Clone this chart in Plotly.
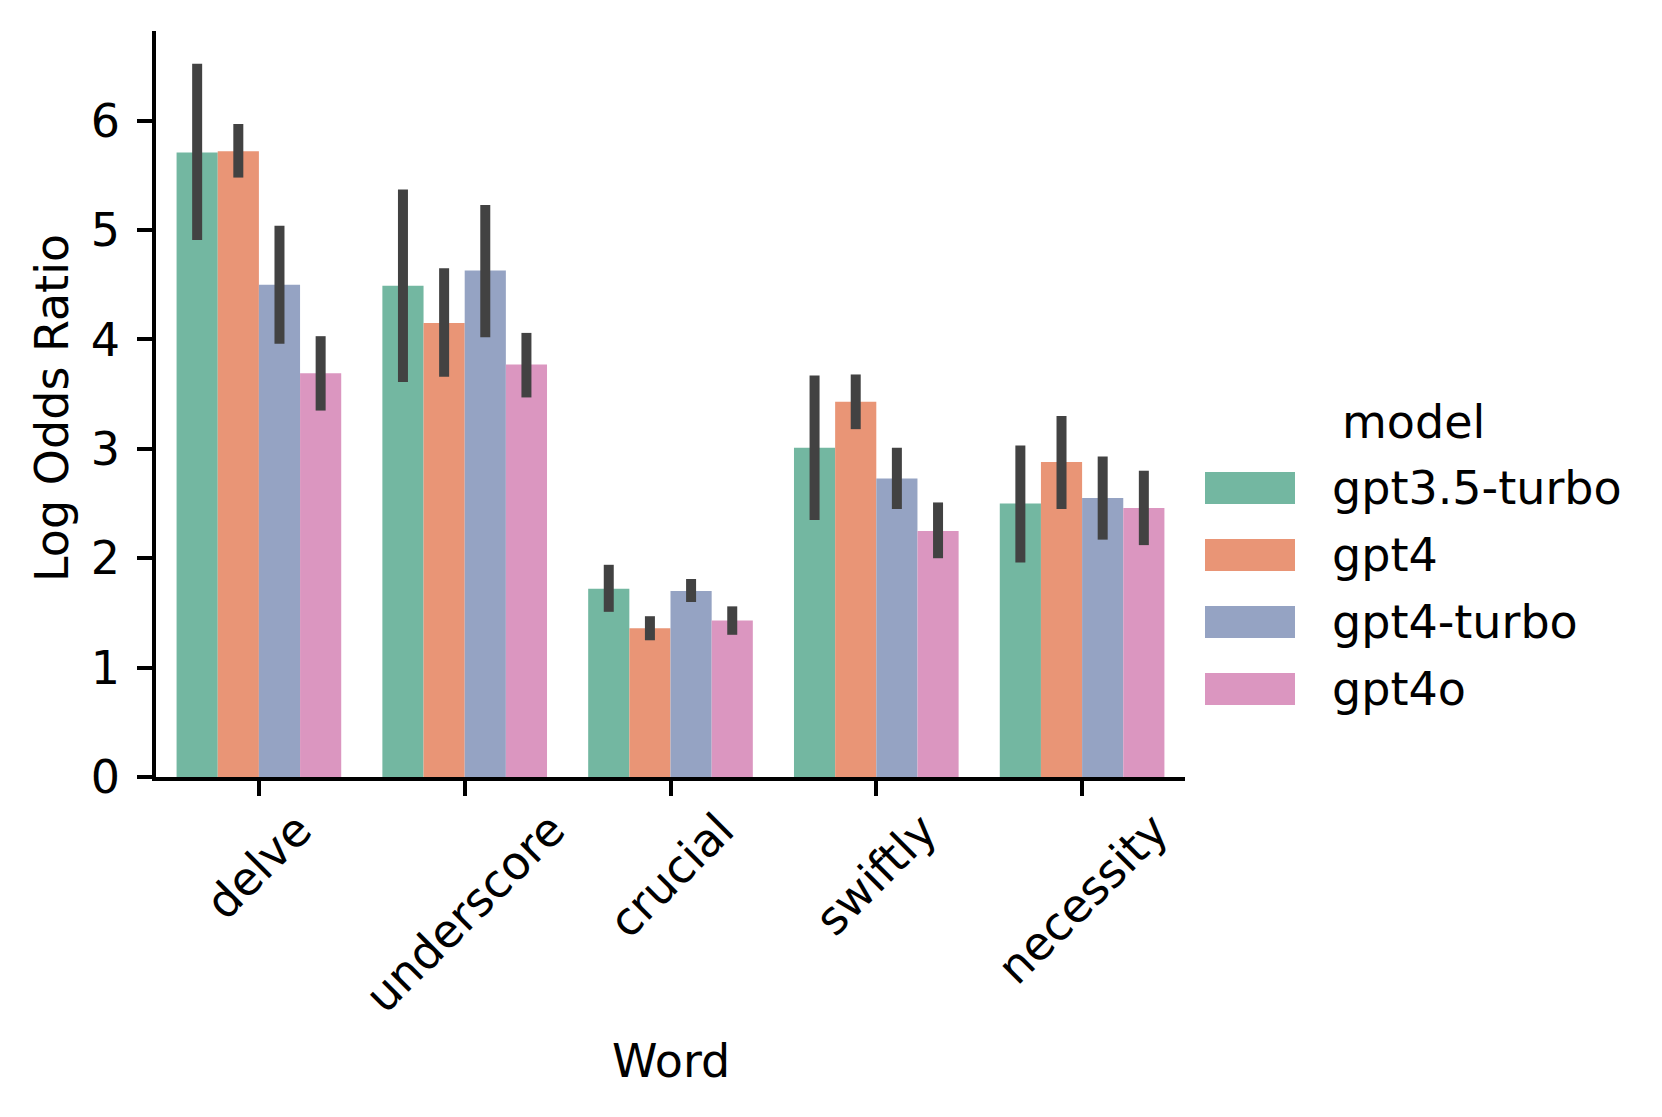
import plotly.graph_objects as go

# ---------------- data ----------------
words = ["delve", "underscore", "crucial", "swiftly", "necessity"]
models = ["gpt3.5-turbo", "gpt4", "gpt4-turbo", "gpt4o"]

gpt35_val = [5.71, 4.49, 1.72, 3.01, 2.50]
gpt35_lo = [4.91, 3.61, 1.51, 2.35, 1.96]
gpt35_hi = [6.52, 5.37, 1.94, 3.67, 3.03]

gpt4_val = [5.72, 4.15, 1.36, 3.43, 2.88]
gpt4_lo = [5.48, 3.66, 1.25, 3.18, 2.45]
gpt4_hi = [5.97, 4.65, 1.47, 3.68, 3.30]

gpt4t_val = [4.50, 4.63, 1.70, 2.73, 2.55]
gpt4t_lo = [3.96, 4.02, 1.60, 2.45, 2.17]
gpt4t_hi = [5.04, 5.23, 1.81, 3.01, 2.93]

gpt4o_val = [3.69, 3.77, 1.43, 2.25, 2.46]
gpt4o_lo = [3.35, 3.47, 1.30, 2.00, 2.12]
gpt4o_hi = [4.03, 4.06, 1.56, 2.51, 2.80]

y_ticks = [0, 1, 2, 3, 4, 5, 6]

colors = ["#73b7a1", "#e99576", "#95a3c3", "#db96c0"]

series = [
    (gpt35_val, gpt35_lo, gpt35_hi),
    (gpt4_val, gpt4_lo, gpt4_hi),
    (gpt4t_val, gpt4t_lo, gpt4t_hi),
    (gpt4o_val, gpt4o_lo, gpt4o_hi),
]

# ---------------- layout constants (pixels) ----------------
W, H = 1662, 1117
PL, PR, PT, PB = 156, 1185, 31, 777
FONT = "DejaVu Sans"
FS = 46


def px_x(px):
    return (px - PL) / (PR - PL)


def px_y(py):
    return (PB - py) / (PB - PT)


fig = go.Figure()
for name, color, (vals, lo, hi) in zip(models, colors, series):
    fig.add_trace(go.Bar(
        x=words, y=vals, name=name,
        marker=dict(color=color, line=dict(width=0)),
        error_y=dict(type="data", symmetric=False,
                     array=[h - v for h, v in zip(hi, vals)],
                     arrayminus=[v - l for v, l in zip(vals, lo)],
                     color="#424242", thickness=10, width=0),
        showlegend=False,
    ))

annotations = []
# x tick labels (rotated, centred like matplotlib)
for w in words:
    annotations.append(dict(
        x=w, xref="x", y=px_y(800), yref="paper",
        text=w, textangle=-45, showarrow=False,
        xanchor="center", yanchor="top",
        font=dict(family=FONT, size=FS, color="black"),
    ))
# x-axis title
annotations.append(dict(
    x=0.5, xref="paper", y=px_y(1061), yref="paper",
    text="Word", showarrow=False, xanchor="center", yanchor="middle",
    font=dict(family=FONT, size=FS, color="black"),
))
# y-axis title
annotations.append(dict(
    x=px_x(52), xref="paper", y=px_y(408), yref="paper",
    text="Log Odds Ratio", textangle=-90, showarrow=False,
    xanchor="center", yanchor="middle",
    font=dict(family=FONT, size=FS, color="black"),
))

# legend (matplotlib style patches)
shapes = []
annotations.append(dict(
    x=px_x(1413), xref="paper", y=px_y(422), yref="paper",
    text="model", showarrow=False, xanchor="center", yanchor="middle",
    font=dict(family=FONT, size=FS, color="black"),
))
leg_y0 = 488
leg_step = 67
for i, (name, color) in enumerate(zip(models, colors)):
    cy = leg_y0 + i * leg_step
    shapes.append(dict(
        type="rect", xref="paper", yref="paper",
        x0=px_x(1205), x1=px_x(1295), y0=px_y(cy + 16), y1=px_y(cy - 16),
        fillcolor=color, line=dict(width=0), layer="above",
    ))
    annotations.append(dict(
        x=px_x(1330), xref="paper", y=px_y(cy), yref="paper",
        text=name, showarrow=False, xanchor="left", yanchor="middle",
        font=dict(family=FONT, size=FS, color="black"),
    ))

fig.update_layout(
    width=W, height=H,
    margin=dict(l=PL, r=W - PR, t=PT, b=H - PB, pad=0),
    paper_bgcolor="white", plot_bgcolor="white",
    barmode="group", bargap=0.2, bargroupgap=0,
    font=dict(family=FONT, size=FS, color="black"),
    xaxis=dict(
        type="category", range=[-0.5, 4.5],
        showline=True, linecolor="black", linewidth=3.5,
        ticks="outside", ticklen=15, tickwidth=3.5, tickcolor="black",
        showticklabels=False, showgrid=False, zeroline=False,
    ),
    yaxis=dict(
        range=[0, 6.82], tickvals=y_ticks,
        showline=True, linecolor="black", linewidth=3.5,
        ticks="outside", ticklen=15, tickwidth=3.5, tickcolor="black",
        ticklabelstandoff=8,
        tickfont=dict(family=FONT, size=FS, color="black"),
        showgrid=False, zeroline=False,
    ),
    annotations=annotations,
    shapes=shapes,
)

fig.write_html("out.html",
               config={"displayModeBar": False},
               post_script="document.body.style.margin='0';document.body.style.overflow='hidden';")
